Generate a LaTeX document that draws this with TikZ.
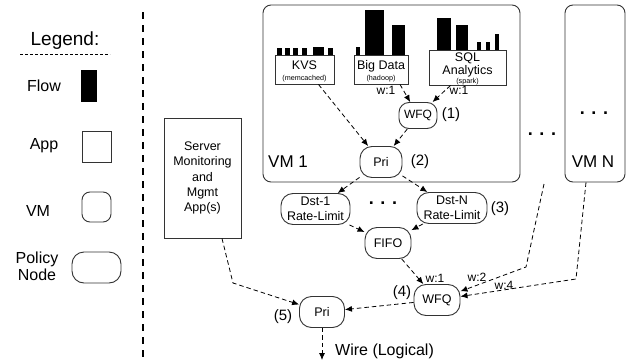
\documentclass[tikz,border=0pt]{standalone}
\usepackage{fontspec}
\setmainfont{Liberation Sans}
\usetikzlibrary{arrows.meta,calc}
\newcommand\fsz[2]{\fontsize{#1}{#2}\selectfont}
\begin{document}
\begin{tikzpicture}[x=1pt,y=-1pt,
  bd/.style={draw=black!80, line width=0.9pt},
  pol/.style={bd, rounded corners=12pt, minimum height=31pt, inner sep=0pt, align=center, font=\fsz{12.5}{15.5}},
  app/.style={bd, fill=white, inner sep=0pt, align=center},
  vmbox/.style={bd, rounded corners=8pt, inner sep=0pt},
  flowbar/.style={fill=black, inner sep=0pt},
  arr/.style={draw=black, line width=0.8pt, dash pattern=on 4.5pt off 3pt, -{Latex[length=7pt,width=6pt]}},
  wlab/.style={font=\fsz{12}{14}, inner sep=0pt},
  num/.style={font=\fsz{15}{17}, inner sep=0pt},
  big/.style={font=\fsz{16}{17}, inner sep=0pt, align=center},
  dots/.style={font=\bfseries\fsz{18}{18}, inner sep=0pt},
  apptxt/.style={font=\fsz{12.5}{14}, inner sep=0pt, anchor=base},
  subtxt/.style={font=\fsz{7.2}{9}, inner sep=0pt, anchor=base},
]
\useasboundingbox (0,0) rectangle (627,362);

% ---------- legend ----------
\node[font=\fsz{19}{20}, inner sep=0pt] (legend) at (65,41) {Legend:};
\coordinate (ul1) at (20,54);
\coordinate (ul2) at (110,54);
\draw[line width=0.7pt, dash pattern=on 3pt off 2pt] (ul1) -- (ul2);
\node[big] (lflow) at (44,86) {Flow};
\node[flowbar, minimum width=16pt, minimum height=32pt] (lflowbar) at (89,86) {};
\node[big] (lapp) at (44,146) {App};
\node[app, minimum width=29pt, minimum height=31pt] (lappbox) at (96.5,146.5) {};
\node[big] (lvm) at (38,211) {VM};
\node[vmbox, minimum width=29pt, minimum height=30pt] (lvmbox) at (96.5,207) {};
\node[big] (lpol) at (37,266) {Policy\\Node};
\node[pol, minimum width=49pt] (lpolbox) at (96.5,267.5) {};
\coordinate (sep1) at (143,12);
\coordinate (sep2) at (143,362);
\draw[line width=1.8pt, dash pattern=on 7pt off 6pt] (sep1) -- (sep2);

% ---------- VMs ----------
\node[vmbox, minimum width=257pt, minimum height=177pt] (vm1) at (391.5,93.5) {};
\node[vmbox, minimum width=60pt, minimum height=177pt] (vmn) at (595,93.5) {};
\node[big, anchor=west, font=\fsz{17}{18}] (vm1lab) at (268,162) {VM 1};
\node[big, font=\fsz{17}{18}] (vmnlab) at (593,162) {VM N};
\node[dots] (vmndots) at (594,113) {. . .};
\node[dots] (vmdots) at (542,134) {. . .};
\node[dots] (dstdots) at (383,203) {. . .};

% ---------- flows ----------
\foreach \a/\b/\t in {277/282/48, 285/290/48, 293/298/48, 302/307/48, 313/324/47, 328/333/48}
  \fill (\a,\t) rectangle (\b,55);
\foreach \a/\b/\t in {356/360/47, 365/384/10, 392/405/25}
  \fill (\a,\t) rectangle (\b,55);
\foreach \a/\b/\t in {437/451/18, 456/468/25, 477/481/42, 486/490/42, 495/499/34}
  \fill (\a,\t) rectangle (\b,50);

% ---------- apps ----------
\node[app, minimum width=59pt, minimum height=29pt] (kvs) at (304.5,69.5) {};
\node[apptxt] (kvsT) at (304.5,69.5) {KVS};
\node[subtxt] (kvsS) at (304.5,80.5) {(memcached)};
\node[app, minimum width=54pt, minimum height=29pt] (bigdata) at (381,69.5) {};
\node[apptxt] (bigT) at (381,69.5) {Big Data};
\node[subtxt] (bigS) at (381,80.5) {(hadoop)};
\node[app, minimum width=77pt, minimum height=35pt] (sql) at (467.5,67.5) {};
\node[apptxt] (sqlT1) at (467.5,61) {SQL};
\node[apptxt] (sqlT2) at (467.5,74.3) {Analytics};
\node[subtxt] (sqlS) at (467.5,83) {(spark)};
\node[app, minimum width=77pt, minimum height=120pt, font=\fsz{12.5}{15.3}] (srv) at (202.5,178) {Server\\Monitoring\\and\\Mgmt\\App(s)};

% ---------- policy nodes ----------
\node[pol, minimum width=38pt, minimum height=26pt, rounded corners=10pt, font=\fsz{12}{14}] (wfq1) at (418,115.5) {WFQ};
\node[num] (n1) at (451,115) {(1)};
\node[pol, minimum width=42pt] (pri2) at (381,162) {Pri};
\node[num] (n2) at (420,162) {(2)};
\node[pol, minimum width=69pt] (dst1) at (315.5,209) {Dst-1\\Rate-Limit};
\node[pol, minimum width=70pt] (dstn) at (452,208) {Dst-N\\Rate-Limit};
\node[num] (n3) at (500,209) {(3)};
\node[pol, minimum width=46pt] (fifo) at (388,243) {FIFO};
\node[pol, minimum width=46pt] (wfq4) at (437,300) {WFQ};
\node[num] (n4) at (402,293) {(4)};
\node[pol, minimum width=45pt] (pri5) at (322,312) {Pri};
\node[num] (n5) at (283,317) {(5)};
\coordinate (wire) at (322,360);
\node[big, anchor=west] (wirelab) at (335,351) {Wire (Logical)};

% ---------- weight labels ----------
\node[wlab] (w1a) at (386,90) {w:1};
\node[wlab] (w1b) at (459,90) {w:1};
\node[wlab] (w1c) at (435,278) {w:1};
\node[wlab] (w2) at (477,277) {w:2};
\node[wlab] (w4) at (504,285) {w:4};

% ---------- connectors ----------
\draw[arr] ([xshift=14pt]kvs.south) -- (pri2);
\draw[arr] ([xshift=19pt]bigdata.south) -- (wfq1);
\draw[arr] ([xshift=-17pt]sql.south) -- (wfq1);
\draw[arr] (wfq1) -- (pri2);
\draw[arr] (pri2) -- (dst1);
\draw[arr] (pri2) -- (dstn);
\draw[arr] (dst1) -- (fifo);
\draw[arr] (dstn) -- (fifo);
\draw[arr] (fifo) -- (wfq4);
\coordinate (dotsdown) at (544,184);
\coordinate (e1) at (526,267);
\draw[arr] (dotsdown) -- (e1) -- (wfq4);
\coordinate (e2) at (576,279);
\draw[arr] ([xshift=-9pt]vmn.south) -- (e2) -- (wfq4);
\coordinate (e3) at (233,283);
\draw[arr] ([xshift=19.5pt]srv.south) -- (e3) -- (pri5);
\draw[arr] (wfq4) -- (pri5);
\draw[arr] (pri5) -- (wire);
\end{tikzpicture}
\end{document}
